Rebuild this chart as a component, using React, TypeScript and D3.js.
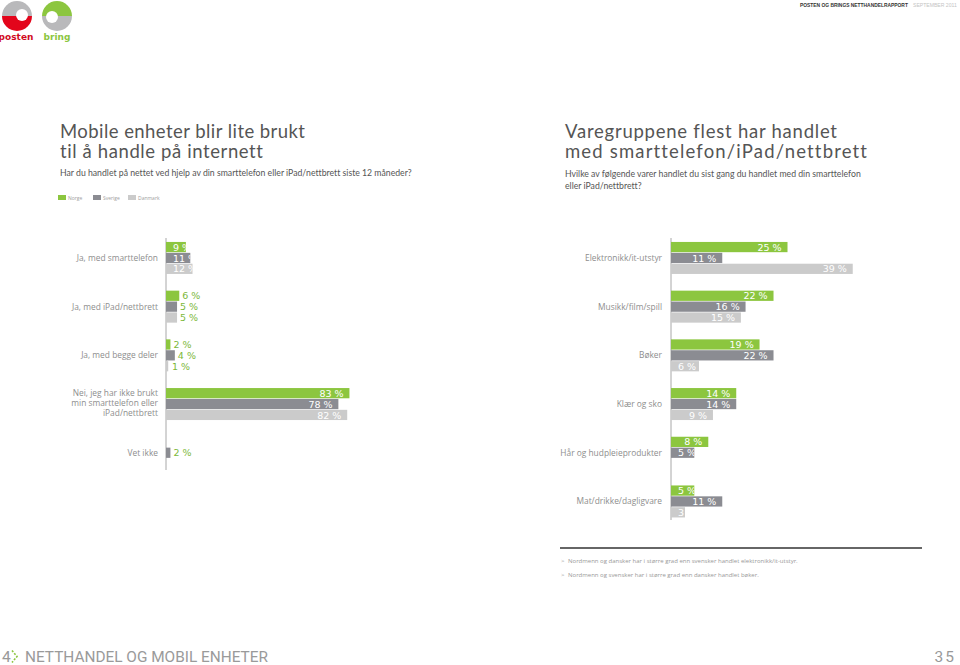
import React from "react";
import * as d3 from "d3";

const seriesNames = ["Norge", "Sverige", "Danmark"];
const seriesColors = ["#8cc63f", "#8b8c92", "#cbcbcb"];

const leftCategories = [
  ["Ja, med smarttelefon"],
  ["Ja, med iPad/nettbrett"],
  ["Ja, med begge deler"],
  ["Nei, jeg har ikke brukt", "min smarttelefon eller", "iPad/nettbrett"],
  ["Vet ikke"],
];
const leftNorge = [9, 6, 2, 83, null];
const leftSverige = [11, 5, 4, 78, 2];
const leftDanmark = [12, 5, 1, 82, null];

const rightCategories = [
  "Elektronikk/it-utstyr",
  "Musikk/film/spill",
  "Bøker",
  "Klær og sko",
  "Hår og hudpleieprodukter",
  "Mat/drikke/dagligvare",
];
const rightNorge = [25, 22, 19, 14, 8, 5];
const rightSverige = [11, 16, 22, 14, 5, 11];
const rightDanmark = [39, 15, 6, 9, null, 3];

const leftTitle = ["Mobile enheter blir lite brukt", "til å handle på internett"];
const rightTitle = ["Varegruppene flest har handlet", "med smarttelefon/iPad/nettbrett"];

const notes = [
  "Nordmenn og dansker har i større grad enn svensker handlet elektronikk/it-utstyr.",
  "Nordmenn og svensker har i større grad enn dansker handlet bøker.",
];

const STEP = 48.7;
const Y0 = 233.6;
const LABEL_FONT = "'DejaVu Sans', sans-serif";
const CAT_FONT = "'Open Sans', sans-serif";
const TITLE_FONT = "Lato, sans-serif";
const NOLIG = { fontVariantLigatures: "none" as const, fontFeatureSettings: "'liga' 0, 'clig' 0" };

function textW(s: string) {
  let w = 0;
  for (const c of s) {
    if (c === " ") w += 3.0;
    else if (c === "%") w += 9.0;
    else w += 6.0;
  }
  return w;
}

type ChartProps = {
  id: string;
  cats: string[][];
  series: (number | null)[][];
  axisX: number;
  pxPerPct: number;
  labelRight: number;
  axisBottom: number;
  outsideBelow: number;
};

function BarChart({ id, cats, series, axisX, pxPerPct, labelRight, axisBottom, outsideBelow }: ChartProps) {
  const x = d3.scaleLinear().domain([0, 100]).range([axisX, axisX + 100 * pxPerPct]);
  const y = d3
    .scaleBand<number>()
    .domain(d3.range(cats.length))
    .range([Y0, Y0 + cats.length * STEP]);
  const inner = d3
    .scaleBand<number>()
    .domain([0, 1, 2])
    .range([-16, 16])
    .paddingInner(0.06);
  const bh = inner.bandwidth();
  return (
    <g>
      <line x1={axisX} x2={axisX} y1={238} y2={axisBottom} stroke="#a8a8a8" strokeWidth={1} />
      {cats.map((lines, i) => {
        const cy = (y(i) as number) + y.bandwidth() / 2;
        const n = lines.length;
        return lines.map((l, k) => (
          <text
            key={"c" + i + "-" + k}
            x={labelRight}
            y={cy + 3 + (k - (n - 1) / 2) * 9.8 - (n > 1 ? 1 : 0)}
            textAnchor="end"
            fontFamily={CAT_FONT}
            fontSize={8.4}
            fill="#8e8e8e"
          >
            {l}
          </text>
        ));
      })}
      {series.map((vals, s) =>
        vals.map((v, i) => {
          if (v === null || v === undefined) return null;
          const cy = (y(i) as number) + y.bandwidth() / 2;
          const by = cy + (inner(s) as number);
          const x1 = x(v);
          const w = x1 - axisX;
          const label = `${v} %`;
          const tw = textW(label);
          const cid = `${id}-clip-${s}-${i}`;
          const ty = by + bh / 2 + 3.6;
          if (v < outsideBelow) {
            return (
              <g key={`${s}-${i}`}>
                <rect x={axisX} y={by} width={w} height={bh} fill={seriesColors[s]} />
                <text
                  x={Math.max(x1 + 3, axisX + 6)}
                  y={ty}
                  fontFamily={LABEL_FONT}
                  fontSize={9.5}
                  fill="#7cb83a"
                >
                  {label}
                </text>
              </g>
            );
          }
          const tx = Math.max(axisX + 7, x1 - 6 - tw);
          return (
            <g key={`${s}-${i}`}>
              <clipPath id={cid}>
                <rect x={axisX} y={by} width={w} height={bh} />
              </clipPath>
              <rect x={axisX} y={by} width={w} height={bh} fill={seriesColors[s]} />
              <text
                x={tx}
                y={ty}
                fontFamily={LABEL_FONT}
                fontSize={9.5}
                fill="#ffffff"
                clipPath={`url(#${cid})`}
              >
                {label}
              </text>
            </g>
          );
        })
      )}
    </g>
  );
}

function Logos() {
  const arcTop = (r: number) =>
    d3.arc()({ innerRadius: 0, outerRadius: r, startAngle: -Math.PI / 2, endAngle: Math.PI / 2 }) as string;
  const arcBot = (r: number) =>
    d3.arc()({ innerRadius: 0, outerRadius: r, startAngle: Math.PI / 2, endAngle: (3 * Math.PI) / 2 }) as string;
  return (
    <g>
      <g transform="translate(17,16)">
        <path d={arcTop(15)} fill="#b9b9bb" />
        <path d={arcBot(15)} fill="#e3051b" />
        <circle cx={5} cy={-1} r={6} fill="#ffffff" />
      </g>
      <text x={16} y={40} textAnchor="middle" fontFamily="'DejaVu Sans', sans-serif" fontWeight="bold" fontSize={9} fill="#d10a1e">
        posten
      </text>
      <g transform="translate(57,16)">
        <path d={arcTop(15)} fill="#8cc63f" />
        <path d={arcBot(15)} fill="#b9b9bb" />
        <circle cx={-5} cy={1} r={6} fill="#ffffff" />
      </g>
      <text x={57} y={40} textAnchor="middle" fontFamily="'DejaVu Sans', sans-serif" fontWeight="bold" fontSize={9} fill="#8cc63f">
        bring
      </text>
    </g>
  );
}

export default function App() {
  const leftTitleW = [245, 203];
  const rightTitleW = [272, 302];
  return (
    <svg
      width={960}
      height={665}
      viewBox="0 0 960 665"
      style={{ position: "absolute", left: 0, top: 0, background: "#ffffff" }}
    >
      <rect width={960} height={665} fill="#ffffff" />
      <Logos />
      <text x={800} y={7} fontFamily="'Liberation Sans', Arial, sans-serif" fontSize={4.9} fontWeight="bold" fill="#333">
        POSTEN OG BRINGS NETTHANDELRAPPORT
      </text>
      <text x={913} y={7} fontFamily="'Liberation Sans', Arial, sans-serif" fontSize={5.1} fill="#c4c4c4">
        SEPTEMBER 2011
      </text>

      {/* Left header */}
      {leftTitle.map((t, i) => (
        <text key={t} x={60} y={138 + i * 20} fontFamily={TITLE_FONT} fontSize={18.5} fill="#555" textLength={leftTitleW[i]} lengthAdjust="spacing" style={NOLIG}>
          {t}
        </text>
      ))}
      <text x={60} y={176} fontFamily={TITLE_FONT} fontSize={8.7} fill="#555" style={NOLIG}>
        Har du handlet på nettet ved hjelp av din smarttelefon eller iPad/nettbrett siste 12 måneder?
      </text>
      {seriesNames.map((n, i) => (
        <g key={n} transform={`translate(${58 + i * 35},195)`}>
          <rect x={0} y={0} width={8} height={5} fill={seriesColors[i]} />
          <text x={10} y={4.6} fontFamily={CAT_FONT} fontSize={5} fill="#a0a0a0">
            {n}
          </text>
        </g>
      ))}

      {/* Right header */}
      {rightTitle.map((t, i) => (
        <text key={t} x={565} y={138 + i * 20} fontFamily={TITLE_FONT} fontSize={18.5} fill="#555" textLength={rightTitleW[i]} lengthAdjust="spacing" style={NOLIG}>
          {t}
        </text>
      ))}
      <text fontFamily={TITLE_FONT} fontSize={8.7} fill="#555" style={NOLIG}>
        <tspan x={565} y={177}>Hvilke av følgende varer handlet du sist gang du handlet med din smarttelefon</tspan>
        <tspan x={565} y={189}>eller iPad/nettbrett?</tspan>
      </text>

      <BarChart
        id="l"
        cats={leftCategories}
        series={[leftNorge, leftSverige, leftDanmark]}
        axisX={166}
        pxPerPct={2.21}
        labelRight={158}
        axisBottom={470}
        outsideBelow={9}
      />
      <BarChart
        id="r"
        cats={rightCategories.map((c) => [c])}
        series={[rightNorge, rightSverige, rightDanmark]}
        axisX={671}
        pxPerPct={4.66}
        labelRight={662}
        axisBottom={520}
        outsideBelow={0}
      />

      {/* Notes */}
      <line x1={560} x2={922} y1={548} y2={548} stroke="#333" strokeWidth={1.3} />
      {notes.map((n, i) => (
        <g key={i}>
          <text x={561} y={563 + i * 14} fontFamily={CAT_FONT} fontSize={6} fill="#999">
            {">"}
          </text>
          <text x={568} y={563 + i * 14} fontFamily={CAT_FONT} fontSize={6} fill="#999">
            {n}
          </text>
        </g>
      ))}

      {/* Footer */}
      <text x={2} y={662} fontFamily="Roboto, sans-serif" fontSize={15.5} fill="#999">
        4
      </text>
      <path d="M12,650.5 L17,656.5 L12,662.5" fill="none" stroke="#8cc63f" strokeWidth={1.6} strokeDasharray="2,1.5" />
      <text x={25} y={662} fontFamily="Roboto, sans-serif" fontSize={15.5} fill="#9a9a9a" textLength={243} lengthAdjust="spacingAndGlyphs">
        NETTHANDEL OG MOBIL ENHETER
      </text>
      <text x={956} y={662} textAnchor="end" fontFamily="Roboto, sans-serif" fontSize={15.5} fill="#999" letterSpacing={2}>
        35
      </text>
    </svg>
  );
}
